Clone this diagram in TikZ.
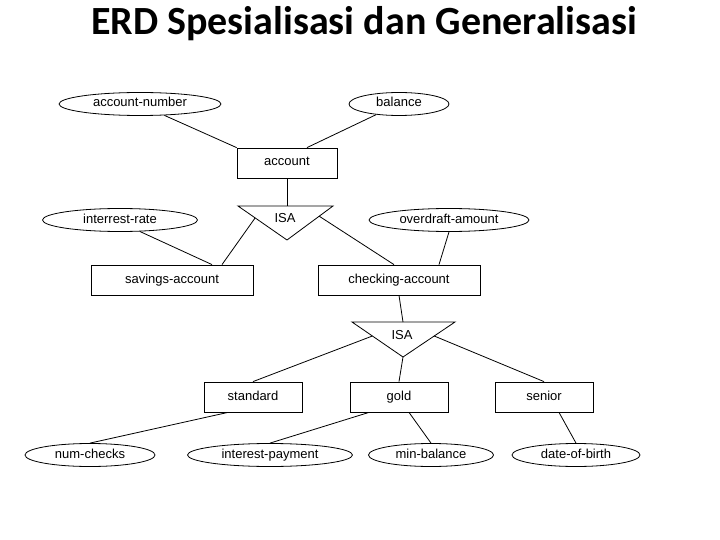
\documentclass[tikz,border=0pt]{standalone}
\usetikzlibrary{shapes.geometric,calc}
\usepackage{fontspec}
\setmainfont{Liberation Sans}
\newfontfamily\titlefont{Carlito}
\begin{document}
\begin{tikzpicture}[x=1pt,y=-1pt,
    attr/.style={draw,thick,ellipse,minimum height=23pt,inner sep=0pt,text height=9pt,text depth=3pt,font=\fontsize{13}{13}\selectfont},
    ent/.style={draw,thick,rectangle,minimum height=30pt,inner sep=0pt,text height=9pt,text depth=3pt,font=\fontsize{13}{13}\selectfont},
    link/.style={thick}]
  \useasboundingbox (0,0) rectangle (720,540);
  % Title
  \node (title) at (364,24) {\titlefont\bfseries\fontsize{40}{40}\selectfont ERD Spesialisasi dan Generalisasi};

  % Top level
  \node[attr,minimum width=162pt] (accnum) at (140,104) {account-number};
  \node[attr,minimum width=100pt] (balance) at (399,104) {balance};
  \node[ent,minimum width=100pt] (account) at (287,163) {account};

  % First ISA
  \coordinate (isaL) at (238,206);
  \coordinate (isaR) at (333,206);
  \coordinate (isaT) at (287,240);
  \draw[thick] (isaL) -- (isaR) -- (isaT) -- cycle;
  \node[font=\fontsize{13}{13}\selectfont] (isa) at (285,218) {ISA};

  \node[attr,minimum width=155pt] (rate) at (120,220) {interrest-rate};
  \node[attr,minimum width=160pt] (overdraft) at (449,220) {overdraft-amount};
  \node[ent,minimum width=162pt] (savings) at (172,280) {savings-account};
  \node[ent,minimum width=162pt] (checking) at (399,280) {checking-account};

  % Second ISA
  \coordinate (isbL) at (352,322);
  \coordinate (isbR) at (455,322);
  \coordinate (isbT) at (403,357);
  \draw[thick] (isbL) -- (isbR) -- (isbT) -- cycle;
  \node[font=\fontsize{13}{13}\selectfont] (isb) at (402,335) {ISA};

  \node[ent,minimum width=98pt] (standard) at (253,397) {standard};
  \node[ent,minimum width=98pt] (gold) at (399,397) {gold};
  \node[ent,minimum width=98pt] (senior) at (544,397) {senior};

  \node[attr,minimum width=130pt] (numchecks) at (90,455) {num-checks};
  \node[attr,minimum width=165pt] (intpay) at (270,455) {interest-payment};
  \node[attr,minimum width=125pt] (minbal) at (431,455) {min-balance};
  \node[attr,minimum width=128pt] (dob) at (576,455) {date-of-birth};

  % Connectors
  \draw[link] (accnum.-25) -- (account.north west);
  \draw[link] (balance.205) -- ([xshift=20pt]account.north);
  \draw[link] (account.south) -- (isaL -| isaT);
  \draw[link] (rate.-30) -- ([xshift=40pt]savings.north);
  \draw[link] ($(isaL)!0.35!(isaT)$) -- ([xshift=50pt]savings.north);
  \draw[link] ($(isaR)!0.3!(isaT)$) -- ([xshift=-5pt]checking.north);
  \draw[link] (overdraft.south) -- ([xshift=40pt]checking.north);
  \draw[link] (checking.south) -- (isbL -| isbT);
  \draw[link] ($(isbL)!0.4!(isbT)$) -- (standard.north);
  \draw[link] (isbT) -- (gold.north);
  \draw[link] ($(isbR)!0.4!(isbT)$) -- (senior.north);
  \draw[link] ([xshift=-25pt]standard.south) -- (numchecks.north);
  \draw[link] ([xshift=-30pt]gold.south) -- (intpay.north);
  \draw[link] ([xshift=10pt]gold.south) -- (minbal.north);
  \draw[link] ([xshift=15pt]senior.south) -- (dob.north);
\end{tikzpicture}
\end{document}
